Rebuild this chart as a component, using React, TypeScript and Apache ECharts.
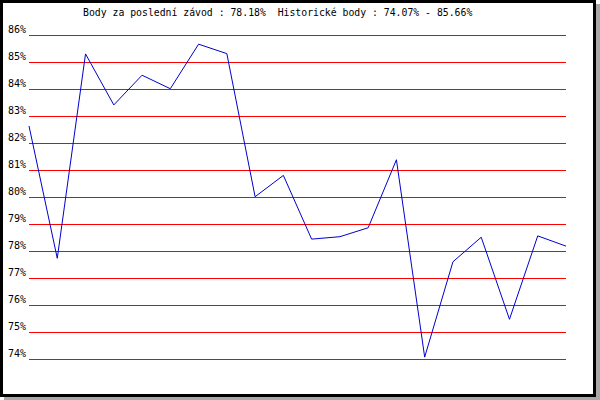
import React, { useEffect, useRef } from "react";
import * as echarts from "echarts";

const races = Array.from({ length: 20 }, (_, i) => String(i + 1));
const points = [
  82.63, 77.73, 85.3, 83.41, 84.51, 84.01, 85.66, 85.31, 80.01, 80.8,
  78.44, 78.53, 78.86, 81.38, 74.07, 77.6, 78.51, 75.47, 78.56, 78.18,
];
const titleText =
  "Body za poslední závod : 78.18%  Historické body : 74.07% - 85.66%";
const yMin = 74;
const yMax = 86;
const FONT = "'DejaVu Sans Mono', 'Liberation Mono', monospace";

export default function App() {
  const ref = useRef<HTMLDivElement>(null);
  useEffect(() => {
    if (!ref.current) return;
    const chart = echarts.init(ref.current, undefined, { renderer: "svg" });
    chart.setOption({
      animation: false,
      backgroundColor: "transparent",
      title: {
        text: titleText,
        left: 83,
        top: 7,
        padding: 0,
        textStyle: {
          fontSize: 9.8,
          fontWeight: "normal",
          fontFamily: FONT,
          color: "#000",
        },
      },
      graphic: [
        {
          type: "rect",
          z: -20,
          shape: { x: 4, y: 4, width: 596, height: 396 },
          style: { fill: "#a8a8a8" },
        },
        {
          type: "rect",
          z: -10,
          shape: { x: 1.5, y: 1.5, width: 593, height: 394 },
          style: { fill: "#fff", stroke: "#000", lineWidth: 3 },
        },
      ],
      grid: { left: 29, right: 34, top: 35, bottom: 41 },
      xAxis: {
        type: "category",
        data: races,
        boundaryGap: false,
        show: false,
      },
      yAxis: {
        type: "value",
        min: yMin,
        max: yMax,
        interval: 1,
        axisLine: { show: false },
        axisTick: { show: false },
        splitLine: { show: true, lineStyle: { color: "#ff0000", width: 1 } },
        axisLabel: {
          formatter: "{value}%",
          fontSize: 10,
          fontFamily: FONT,
          color: "#000",
          margin: 3,
          verticalAlign: "bottom",
          padding: [0, 0, 1, 0],
        },
      },
      series: [
        {
          type: "line",
          data: points,
          symbol: "none",
          lineStyle: { color: "#0000cc", width: 1 },
        },
      ],
    });
    return () => chart.dispose();
  }, []);
  return (
    <div
      ref={ref}
      style={{ position: "absolute", left: 0, top: 0, width: 600, height: 400 }}
    />
  );
}
